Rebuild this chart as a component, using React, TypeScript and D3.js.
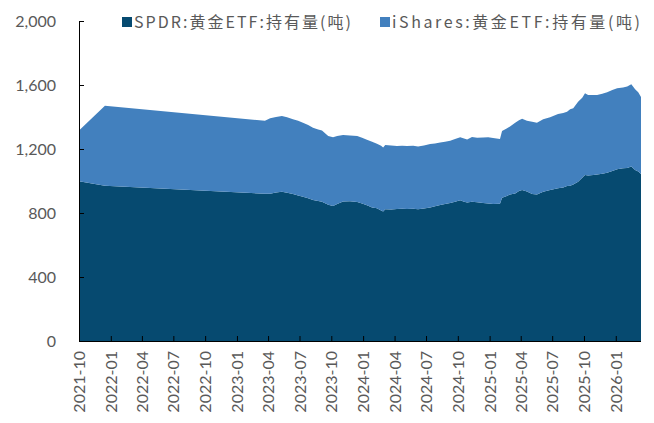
import React, { useRef, useEffect } from 'react';
import * as d3 from 'd3';

const dates = [
  '2021-10-01', '2021-12-15', '2023-03-23', '2023-04-07', '2023-04-24', '2023-05-11', '2023-05-26',
  '2023-06-12', '2023-06-27', '2023-07-11', '2023-07-26', '2023-08-09', '2023-08-24', '2023-09-04',
  '2023-09-22', '2023-10-06', '2023-10-18', '2023-11-04', '2023-11-24', '2023-12-15', '2023-12-29',
  '2024-01-12', '2024-01-27', '2024-02-10', '2024-02-22', '2024-02-28', '2024-03-05', '2024-03-22',
  '2024-04-08', '2024-04-23', '2024-05-07', '2024-05-25', '2024-06-08', '2024-06-25', '2024-07-13',
  '2024-07-27', '2024-08-11', '2024-08-25', '2024-09-09', '2024-09-23', '2024-10-08', '2024-10-19',
  '2024-10-28', '2024-11-11', '2024-11-26', '2024-12-13', '2024-12-28', '2025-01-11', '2025-01-31',
  '2025-02-06', '2025-02-18', '2025-03-01', '2025-03-16', '2025-03-27', '2025-04-05', '2025-04-19',
  '2025-05-04', '2025-05-18', '2025-06-05', '2025-06-25', '2025-07-18', '2025-08-02', '2025-08-13',
  '2025-08-22', '2025-08-31', '2025-09-14', '2025-09-26', '2025-10-04', '2025-10-13', '2025-10-28',
  '2025-11-08', '2025-11-23', '2025-12-07', '2025-12-22', '2026-01-05', '2026-01-22', '2026-02-03',
  '2026-02-15', '2026-02-26', '2026-03-07', '2026-03-15',
];

const spdr = [
  998, 970, 920, 921, 928, 933, 926,
  918, 910, 902, 892, 882, 875, 870,
  852, 844, 856, 872, 873, 869, 860,
  848, 835, 829, 816, 810, 823, 822,
  825, 826, 825, 826, 823, 828, 835,
  842, 850, 857, 863, 870, 880, 870,
  866, 871, 867, 862, 860, 857, 858,
  896, 905, 915, 922, 938, 944, 935,
  918, 915, 933, 943, 954, 960, 968,
  971, 978, 995, 1020, 1037, 1035, 1037,
  1040, 1045, 1052, 1063, 1073, 1079, 1082,
  1090, 1069, 1060, 1044,
];

const ishares = [
  317, 500, 456, 471, 472, 473, 472,
  468, 466, 462, 458, 451, 447, 445,
  429, 429, 426, 415, 411, 412, 410,
  410, 410, 404, 404, 400, 402, 400,
  394, 394, 394, 394, 393, 394, 396,
  393, 390, 388, 389, 392, 393, 395,
  394, 404, 403, 410, 413, 411, 404,
  416, 421, 425, 442, 442, 445, 442,
  453, 449, 453, 455, 465, 465, 465,
  477, 476, 501, 500, 511, 502, 500,
  497, 500, 502, 505, 506, 506, 508,
  514, 504, 495, 481,
];

const yTicks = [0, 400, 800, 1200, 1600, 2000];
const seriesNames = ['SPDR:黄金ETF:持有量(吨)', 'iShares:黄金ETF:持有量(吨)'];
const seriesColors = ['#064a70', '#4280be'];

const W = 654;
const H = 423;

export default function App() {
  const ref = useRef<SVGSVGElement>(null);

  useEffect(() => {
    const svg = d3.select(ref.current);
    svg.selectAll('*').remove();

    const parse = d3.timeParse('%Y-%m-%d');
    const rows = dates.map((d, i) => ({ date: parse(d) as Date, spdr: spdr[i], ishares: ishares[i] }));

    const left = 79, right = 641, top = 21, bottom = 341;

    const x = d3.scaleTime()
      .domain([rows[0].date, rows[rows.length - 1].date])
      .range([left, right]);
    const y = d3.scaleLinear().domain([0, 2000]).range([bottom, top]);

    const stacked = d3.stack<any>().keys(['spdr', 'ishares'])(rows);

    const area = d3.area<any>()
      .x(d => x(d.data.date))
      .y0(d => y(d[0]))
      .y1(d => y(d[1]));

    svg.append('g')
      .selectAll('path')
      .data(stacked)
      .join('path')
      .attr('fill', (d, i) => seriesColors[i])
      .attr('d', area as any);

    // y axis, ticks pointing inward
    const yAxis = svg.append('g')
      .attr('transform', `translate(${left},0)`)
      .call(d3.axisRight(y).tickValues(yTicks).tickSize(5).tickFormat(d3.format(',')) as any);
    yAxis.select('.domain').attr('stroke', '#000').attr('d', `M0.5,${top}V${bottom}`);
    yAxis.selectAll('.tick line').attr('stroke', '#000');
    yAxis.selectAll('.tick text')
      .attr('x', -23)
      .attr('text-anchor', 'end')
      .attr('fill', '#595959')
      .style('font-family', 'Lato, sans-serif')
      .style('font-size', '16px');

    // x axis, quarterly ticks
    const xTickVals = d3.timeMonth.every(3)!.range(parse('2021-10-01') as Date, parse('2026-01-02') as Date);
    const xAxis = svg.append('g')
      .attr('transform', `translate(0,${bottom})`)
      .call(d3.axisTop(x).tickValues(xTickVals).tickSize(5).tickFormat(d3.timeFormat('%Y-%m') as any) as any);
    xAxis.select('.domain').attr('stroke', '#000').attr('d', `M${left},0.5H${right}`);
    xAxis.selectAll('.tick line').attr('stroke', '#000');
    xAxis.selectAll('.tick text')
      .attr('transform', 'rotate(-90)')
      .attr('x', -10)
      .attr('y', 0)
      .attr('dy', '0.35em')
      .attr('text-anchor', 'end')
      .attr('fill', '#595959')
      .style('font-family', 'Lato, sans-serif')
      .style('font-size', '16px');

    // legend
    const legendX = [122, 380];
    const legendW = [217, 248];
    const lg = svg.append('g');
    seriesNames.forEach((name, i) => {
      lg.append('rect')
        .attr('x', legendX[i])
        .attr('y', 17)
        .attr('width', 10)
        .attr('height', 10)
        .attr('fill', seriesColors[i]);
      lg.append('text')
        .attr('x', legendX[i] + 12)
        .attr('y', 28)
        .attr('fill', '#595959')
        .attr('textLength', legendW[i])
        .attr('lengthAdjust', 'spacing')
        .style('font-family', '"Noto Sans CJK SC", sans-serif')
        .style('font-size', '16px')
        .text(name);
    });
  }, []);

  return (
    <svg ref={ref} width={W} height={H} style={{ position: 'absolute', left: 0, top: 0, background: '#fff' }} />
  );
}
